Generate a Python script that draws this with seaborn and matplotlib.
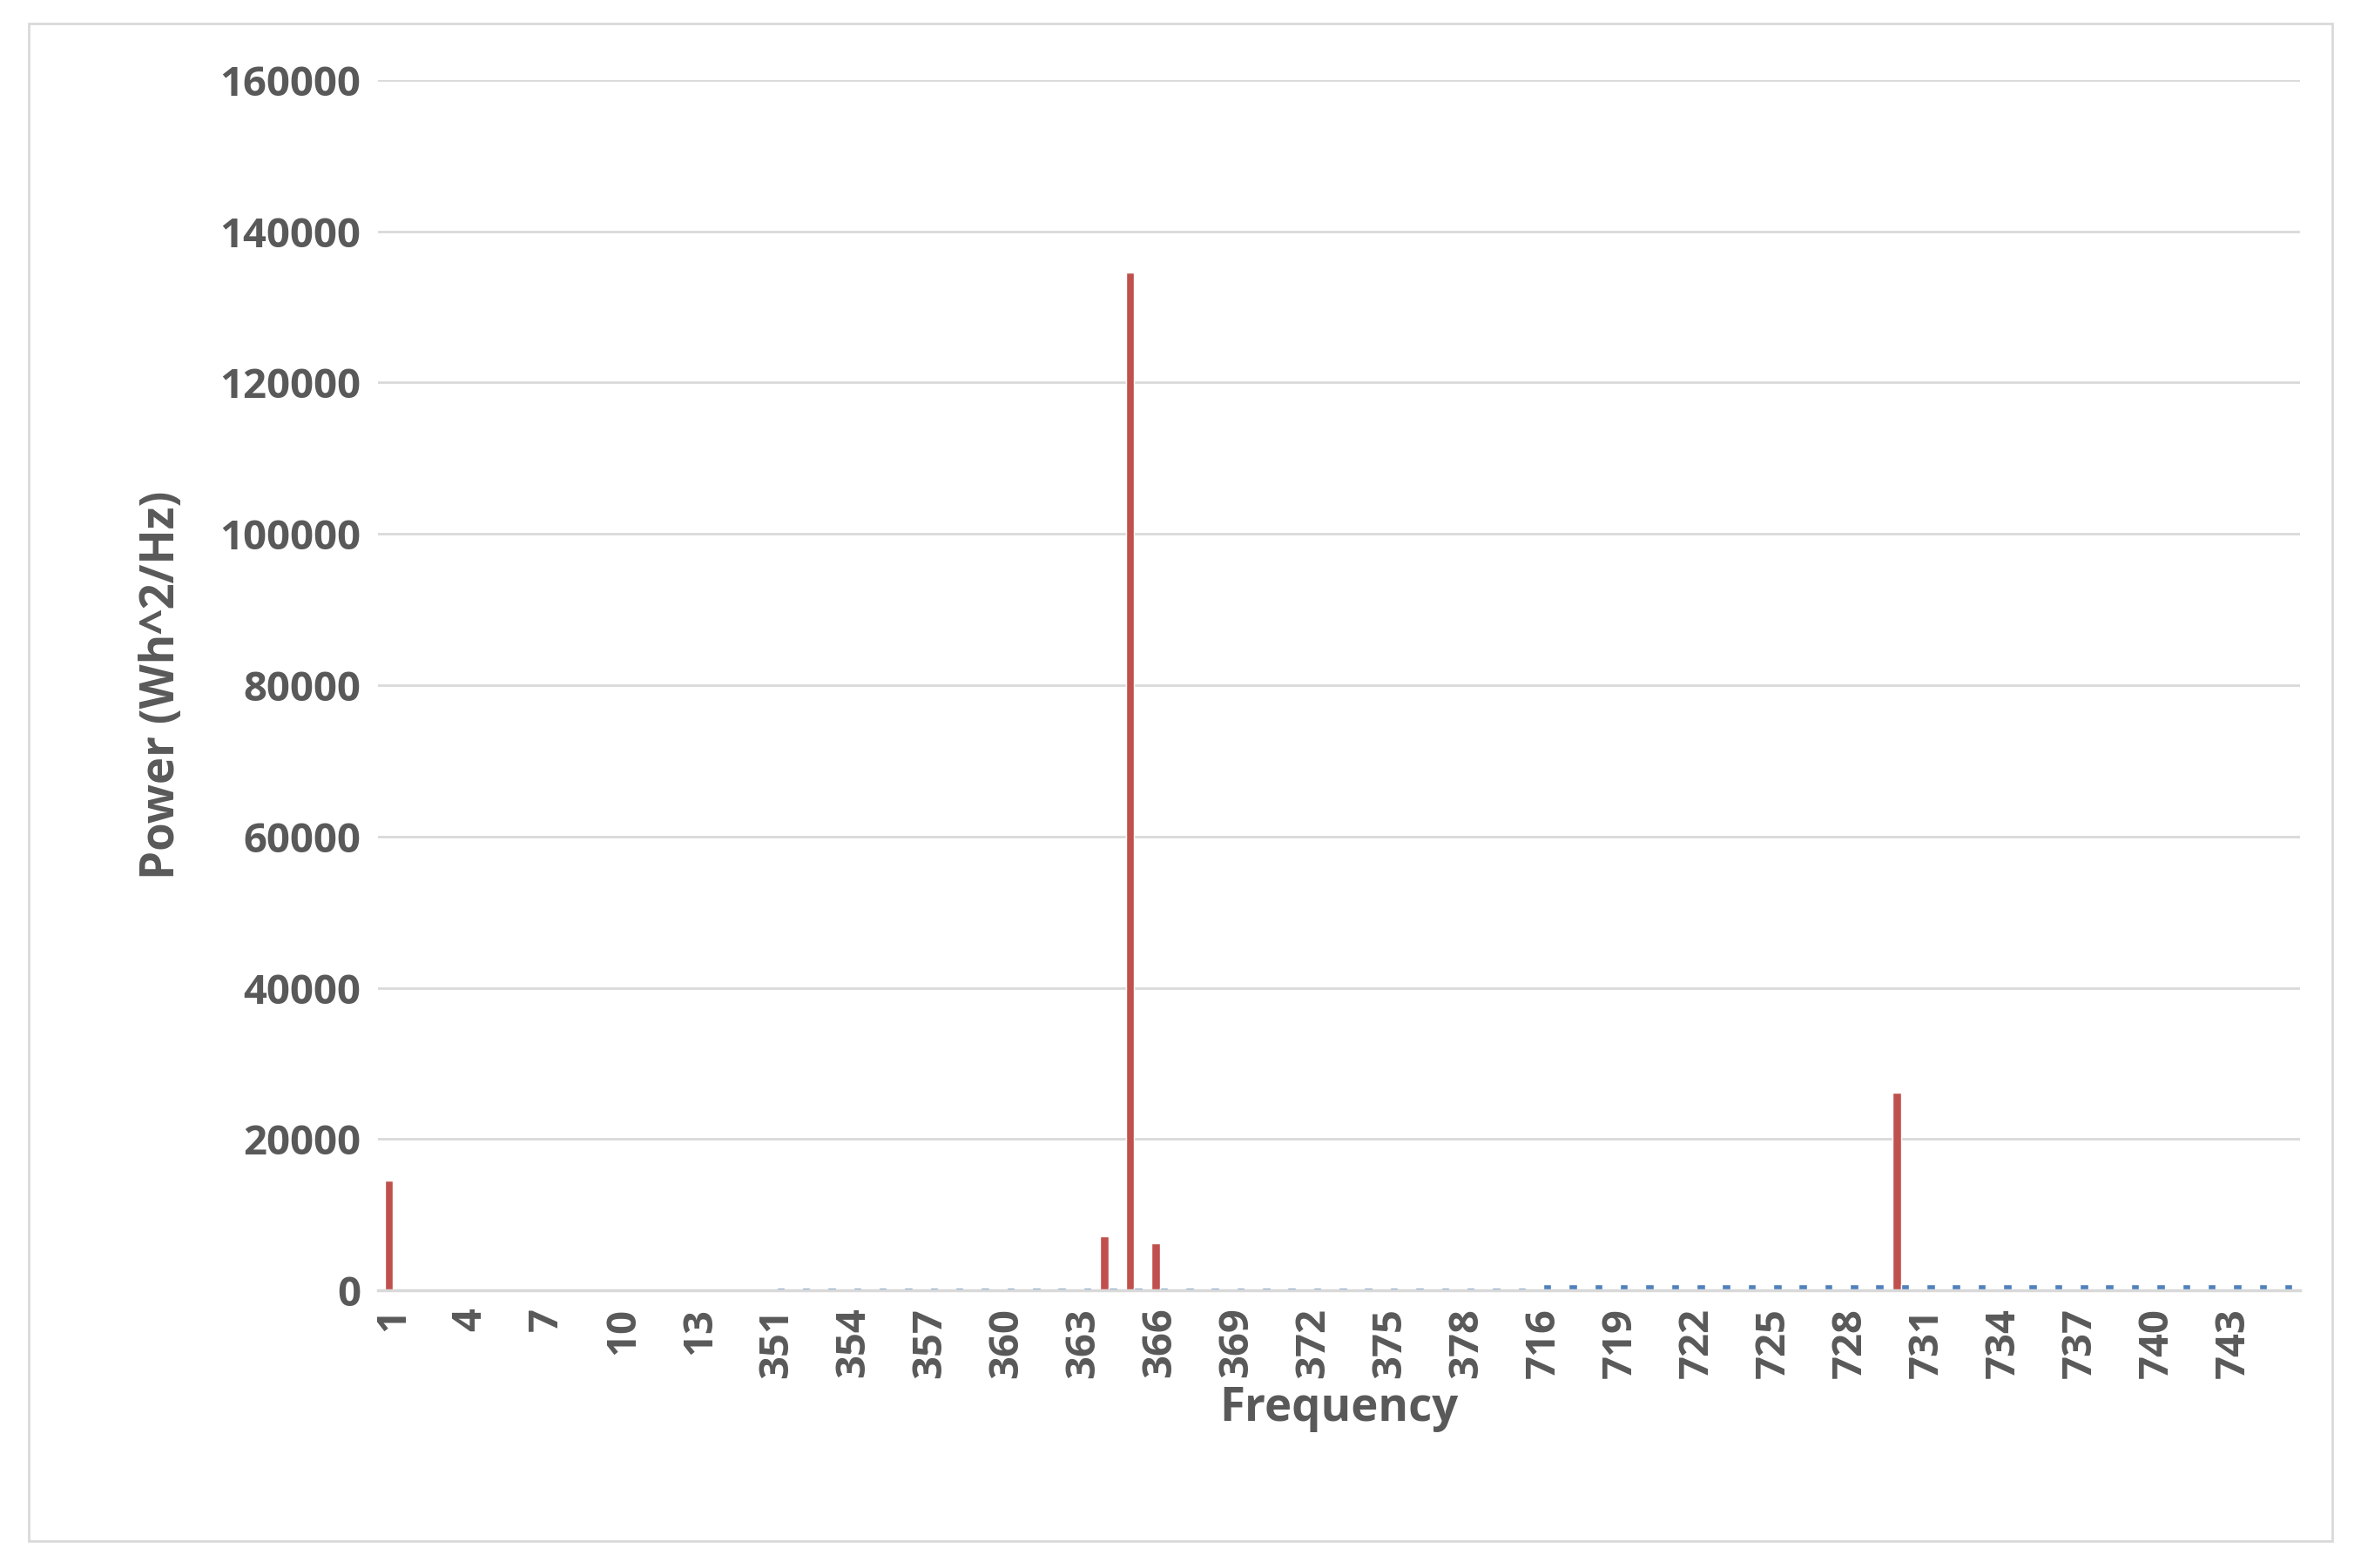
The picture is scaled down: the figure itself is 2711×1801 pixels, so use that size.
import numpy as np
import pandas as pd
import matplotlib
matplotlib.use("Agg")
import matplotlib.pyplot as plt
import seaborn as sns

# frequency categories (three blocks of the spectrum)
freqs = list(range(1, 16)) + list(range(351, 381)) + list(range(716, 746))

# power values (red series)
power_red = {1: 14500, 13: 300, 364: 7200, 365: 134500, 366: 6200, 367: 300,
             729: 200, 730: 26200, 732: 200}
# small blue series
blue_mid = 350
blue_high = 800

red_vals = [power_red.get(f, 0) for f in freqs]
blue_vals = [0] * 15 + [blue_mid] * 30 + [blue_high] * 30

df = pd.DataFrame({
    'Frequency': [str(f) for f in freqs] * 2,
    'Power': red_vals + blue_vals,
    'Series': ['red'] * len(freqs) + ['blue'] * len(freqs),
})

sns.set_style('white')
plt.rcParams['font.family'] = ['Open Sans', 'DejaVu Sans']
fig = plt.figure(figsize=(27.11, 18.01), dpi=100)
ax = fig.add_axes([0.16, 0.177, 0.814, 0.772])
sns.barplot(data=df, x='Frequency', y='Power', hue='Series',
            palette={'red': '#C0504D', 'blue': '#4F81BD'}, saturation=1,
            order=[str(f) for f in freqs], width=0.65, ax=ax, legend=False)

ax.set_ylim(0, 160000)
ax.set_yticks(np.arange(0, 160001, 20000))
ax.yaxis.grid(True, color='#D9D9D9', linewidth=2)
ax.set_axisbelow(True)
for s in ['top', 'right', 'left']:
    ax.spines[s].set_visible(False)
ax.spines['bottom'].set_color('#D9D9D9')
ax.spines['bottom'].set_linewidth(2.5)
ax.set_xlim(-0.6, len(freqs) - 0.4)

ticks = list(range(0, len(freqs), 3))
ax.set_xticks(ticks)
ax.set_xticklabels([str(freqs[i]) for i in ticks], rotation=90)
ax.tick_params(axis='both', length=0, labelsize=34, labelcolor='#595959', pad=14)
for lab in ax.get_xticklabels() + ax.get_yticklabels():
    lab.set_fontweight('bold')

ax.set_xlabel('Frequency', fontsize=38, fontweight='bold', color='#595959', labelpad=6)
ax.set_ylabel('Power (Wh^2/Hz)', fontsize=38, fontweight='bold', color='#595959', labelpad=28)

# light border around the whole figure
fig.patches.append(plt.Rectangle((0.012, 0.017), 0.976, 0.968, transform=fig.transFigure,
                                 fill=False, edgecolor='#D9D9D9', linewidth=2))

fig.savefig('out.png', dpi=100)
